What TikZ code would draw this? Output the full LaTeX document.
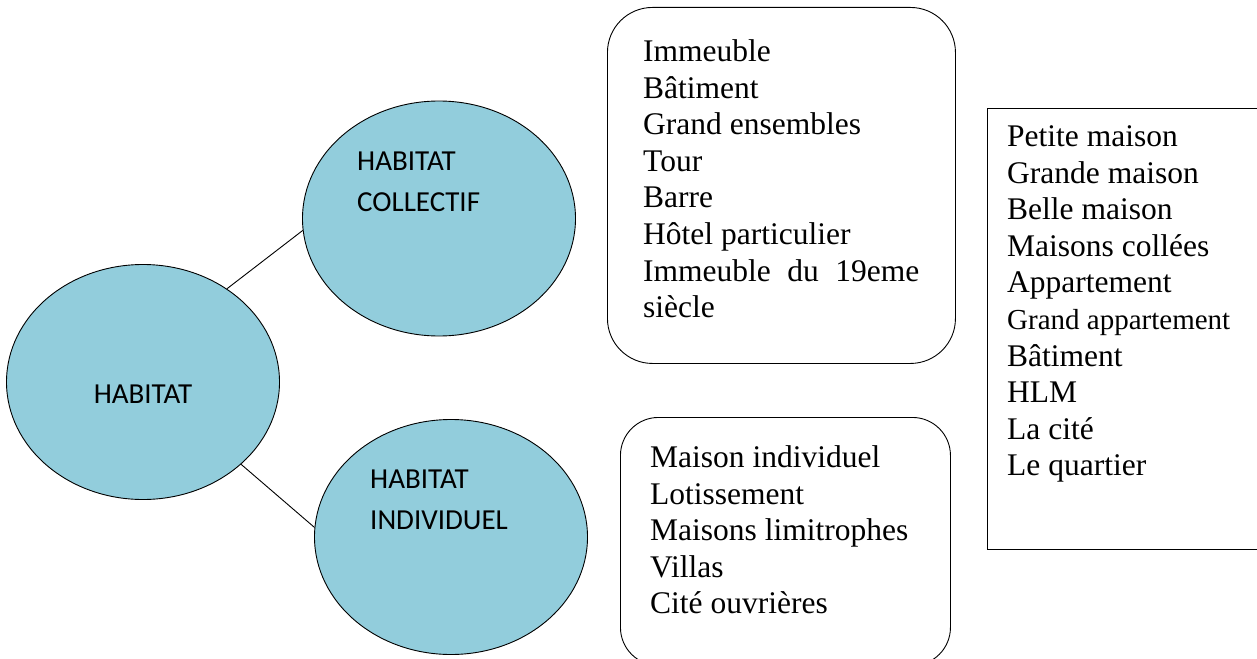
\documentclass[tikz,border=0pt]{standalone}
\usepackage{fontspec}
\setmainfont{Liberation Serif}
\newfontfamily\calibri{Carlito}
\usepackage{tikz}
\usetikzlibrary{shapes.geometric, positioning, calc}
\definecolor{aqua}{RGB}{146,205,220}
\newcommand{\listfont}{\fontsize{31.5}{36.6}\selectfont}
\newcommand{\bubblefont}{\calibri\fontsize{29}{41}\selectfont}

\begin{document}
\begin{tikzpicture}[x=1pt, y=-1pt,
	  bubble/.style={
	  	ellipse,
	  	draw,
	  	fill=aqua,
	  	line width=0.9pt,
	  	inner sep=0pt,
	  	minimum width=273pt,
	  	minimum height=235pt,
	  	font=\bubblefont
	  },
	  bubbletext/.style={
		  anchor=north west,
		  inner sep=0pt,
		  align=left,
		  font=\bubblefont
	  },
	  roundbox/.style={
		  rectangle,
		  draw,
		  line width=0.9pt,
		  anchor=north west,
		  inner sep=0pt
	  },
	  itemlist/.style={
		  anchor=north west,
		  inner sep=0pt,
		  align=left,
		  font=\listfont
	  },
	  link/.style={line width=0.9pt}]
	\clip (0,0) rectangle (1257,658);
	% Root
	\node[bubble, text height=42pt] (habitat) at (143,382) {HABITAT};
	% Children
	\node[bubble] (collectif) at (439,218.5) {};
	\node[bubble] (individuel) at (451,537) {};
	\node[bubbletext] (collectiftext) at (357,152) {HABITAT\\COLLECTIF};
	\node[bubbletext] (individueltext) at (370,470) {HABITAT\\INDIVIDUEL};
	\draw[link] (habitat.48) -- (collectif.185);
	\draw[link] (habitat.-40) -- (individuel.176);
	% Lists
	\node[roundbox, rounded corners=45pt, minimum width=348pt, minimum height=356pt] (collectifbox) at (607,7) {};
	\node[roundbox, rounded corners=38pt, minimum width=330pt, minimum height=248pt] (individuelbox) at (620,417) {};
	\node[roundbox, minimum width=300pt, minimum height=441pt] (generalbox) at (987,108) {};
	\node[itemlist] (collectiflist) at (643,39.5) {Immeuble\\Bâtiment\\Grand ensembles\\Tour\\Barre\\Hôtel particulier\\\makebox[276pt][s]{Immeuble du 19eme}\\siècle};
	\node[itemlist] (individuellist) at (650,445.5) {Maison individuel\\Lotissement\\Maisons limitrophes\\Villas\\Cité ouvrières};
	\node[itemlist] (generallist) at (1007,125.5) {Petite maison\\Grande maison\\Belle maison\\Maisons collées\\Appartement\\{\fontsize{29}{36.6}\selectfont Grand appartement}\\Bâtiment\\HLM\\La cité\\Le quartier};
\end{tikzpicture}
\end{document}
